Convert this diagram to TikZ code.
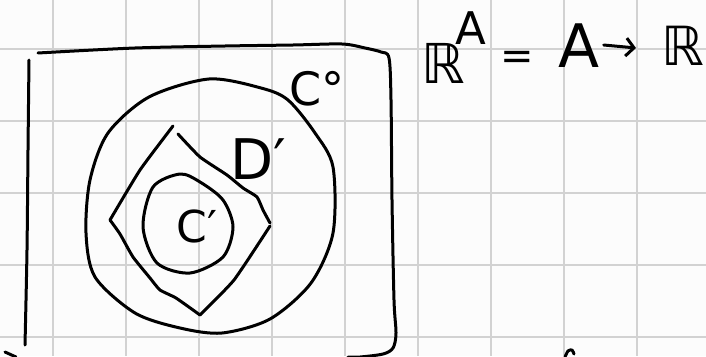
\documentclass[tikz,border=0pt]{standalone}
\usepackage{fontspec}
\usetikzlibrary{arrows.meta}
\setmainfont{DejaVu Sans}
\begin{document}
\begin{tikzpicture}[x=1pt,y=-1pt,
  ink/.style={line width=3pt,line cap=round,line join=round,black},
  gridline/.style={line width=1.6pt,color=gray!35},
  lbl/.style={inner sep=0pt,font=\fontsize{#1}{#1}\selectfont}]
\useasboundingbox (0,0) rectangle (706,356);
\fill[white!98!gray] (0,0) rectangle (706,356);
\begin{scope}
\clip (0,0) rectangle (706,356);
% grid
\foreach \x in {53,126,199,272,345,418,491,564,637,710}
  \draw[gridline] (\x,0) -- (\x,356);
\foreach \y in {49,121,193,265,337}
  \draw[gridline] (0,\y) -- (706,\y);
% box
\draw[ink] plot[smooth] coordinates {(38,53) (135,48) (225,46) (293,45) (342,44) (365,48) (381,52) (389,58) (391,100) (392,200) (394,300) (396,333) (393,348) (383,354) (360,357) (348,357)};
\draw[ink] plot[smooth] coordinates {(29,60) (28,150) (27,250) (25,345)};
\draw[ink] (5,352) -- (16,357);
% outer circle
\draw[ink] plot[smooth cycle] coordinates {(209,79) (149,97) (108,133) (90,180) (86,233) (95,277) (135,313) (180,328) (222,333) (270,319) (311,283) (333,233) (333,167) (315,133) (288,100) (261,88)};
% diamond
\draw[ink] plot[smooth,tension=0.3] coordinates {(178,134) (200,157) (227,175) (243,188) (257,197) (263,210) (270,223)};
\draw[ink] plot[smooth,tension=0.3] coordinates {(270,226) (234,280) (200,315)};
\draw[ink] plot[smooth,tension=0.3] coordinates {(200,315) (176,298) (160,290) (150,278) (133,257) (120,234) (110,220)};
\draw[ink] plot[smooth,tension=0.3] coordinates {(110,220) (140,170) (173,126)};
% inner circle
\draw[ink] plot[smooth cycle] coordinates {(180,174) (200,182) (223,200) (233,227) (223,257) (190,273) (157,263) (143,227) (153,187)};
% bottom mark
\draw[ink] plot[smooth] coordinates {(565,357) (568,351) (572,350) (574,354)};
\end{scope}
% labels
\node[lbl=46] (c0) at (317,89) {C°};
\node[lbl=56] (d1) at (258,159) {D′};
\node[lbl=44] (c1) at (197,226) {C′};
\node[lbl=55] (r1) at (443,63) {ℝ};
\node[lbl=45] (a1) at (471,28) {A};
\node[lbl=40] (eq) at (517,60) {=};
\node[lbl=60] (a2) at (579,46) {A};
\node[lbl=54] (r2) at (683,46) {ℝ};
\coordinate (arrend) at (636,48);
\draw[ink,-{Straight Barb[length=8pt,width=18pt,line width=3pt]}] ([xshift=4pt,yshift=1pt]a2.east) -- (arrend);
\end{tikzpicture}
\end{document}
